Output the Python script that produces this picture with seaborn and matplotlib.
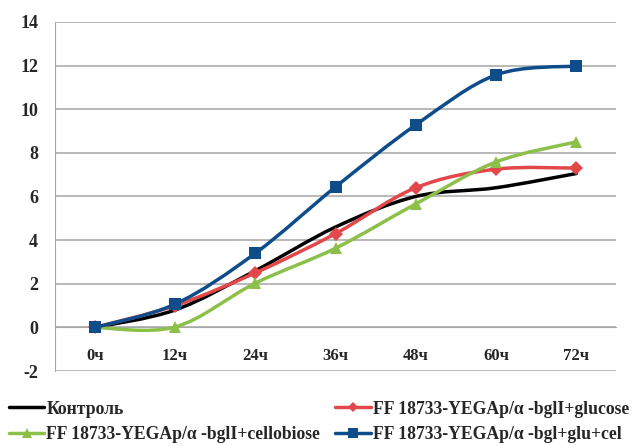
import numpy as np
import pandas as pd
import seaborn as sns
import matplotlib.pyplot as plt
from matplotlib.path import Path
from matplotlib.patches import PathPatch
from matplotlib.lines import Line2D

hours = ['0ч', '12ч', '24ч', '36ч', '48ч', '60ч', '72ч']
control = [0, 0.8, 2.6, 4.6, 6.0, 6.4, 7.05]
glucose = [0, 1.0, 2.5, 4.3, 6.4, 7.25, 7.3]
cellobiose = [0, 0.02, 2.03, 3.63, 5.66, 7.58, 8.5]
glu_cel = [0, 1.07, 3.4, 6.44, 9.28, 11.57, 11.98]

names = ['Контроль',
         'FF 18733-YEGAp/α -bglI+glucose',
         'FF 18733-YEGAp/α -bglI+cellobiose',
         'FF 18733-YEGAp/α -bgl+glu+cel']
colors = ['#000000', '#E2474A', '#8DC04A', '#0F4C8A']
markers = [None, 'D', '^', 's']
msizes = [0, 7, 9, 8.5]

sns.set_style('white')
plt.rcParams['font.family'] = ['Liberation Serif', 'DejaVu Serif']
plt.rcParams['font.weight'] = 'bold'
plt.rcParams['axes.unicode_minus'] = False

x = np.arange(len(hours))
df = pd.DataFrame({'x': np.tile(x, 4),
                   'y': control + glucose + cellobiose + glu_cel,
                   'series': np.repeat(names, len(hours))})


def smooth_path(xs, ys):
    # excel-like smoothed line: cubic bezier through each point
    pts = np.column_stack([xs, ys]).astype(float)
    n = len(pts)
    verts = [pts[0]]
    codes = [Path.MOVETO]
    for i in range(n - 1):
        p0 = pts[max(i - 1, 0)]
        p1 = pts[i]
        p2 = pts[i + 1]
        p3 = pts[min(i + 2, n - 1)]
        verts += [p1 + (p2 - p0) / 6, p2 - (p3 - p1) / 6, p2]
        codes += [Path.CURVE4] * 3
    return Path(verts, codes)


fig = plt.figure(figsize=(6.38, 4.46), dpi=100)
ax = fig.add_axes([0.086, 0.168, 0.880, 0.783])

for i, name in enumerate(names):
    sub = df[df['series'] == name]
    ax.add_patch(PathPatch(smooth_path(sub['x'], sub['y']), facecolor='none',
                           edgecolor=colors[i], lw=2.5, zorder=3 + i,
                           capstyle='round'))
    if markers[i]:
        sns.lineplot(data=sub, x='x', y='y', ax=ax, linestyle='', marker=markers[i],
                     markersize=msizes[i], color=colors[i], markeredgewidth=0,
                     zorder=3 + i)

ax.set_xlim(-0.5, 6.5)
ax.set_ylim(-2, 14)
ax.set_yticks(range(-2, 15, 2))
ax.yaxis.grid(True, color='#A6A6A6', lw=1.1)
ax.set_axisbelow(True)
ax.set_xlabel('')
ax.set_ylabel('')

for s in ['top', 'right']:
    ax.spines[s].set_visible(False)
ax.spines['left'].set_color('#A6A6A6')
ax.spines['bottom'].set_color('#A6A6A6')
ax.spines['bottom'].set_position(('data', 0))

ax.set_xticks(x)
ax.set_xticklabels(hours, fontsize=12, fontweight='bold')
ax.set_xticks(np.arange(0.5, 7, 1), minor=True)
ax.tick_params(axis='x', which='major', length=0, pad=15)
ax.tick_params(axis='x', which='minor', length=5, color='#A6A6A6', direction='out')
ax.tick_params(axis='y', length=5, color='#A6A6A6', direction='out', pad=7,
               labelsize=13)
for lab in ax.get_yticklabels():
    lab.set_fontweight('bold')

handles = [Line2D([], [], color=colors[i], lw=2.5, marker=markers[i],
                  markersize=msizes[i] * 0.8, markeredgewidth=0) for i in range(4)]
order = [0, 2, 1, 3]
fig.legend([handles[k] for k in order], [names[k] for k in order],
           loc='lower left', bbox_to_anchor=(0.01, 0.0), ncol=2, frameon=False,
           prop={'family': 'Liberation Serif', 'weight': 'bold', 'size': 12.7},
           handlelength=2.0, handletextpad=0.12, columnspacing=0.85,
           labelspacing=0.5, borderpad=0.15, borderaxespad=0.0)

fig.savefig('out.png', dpi=100)
